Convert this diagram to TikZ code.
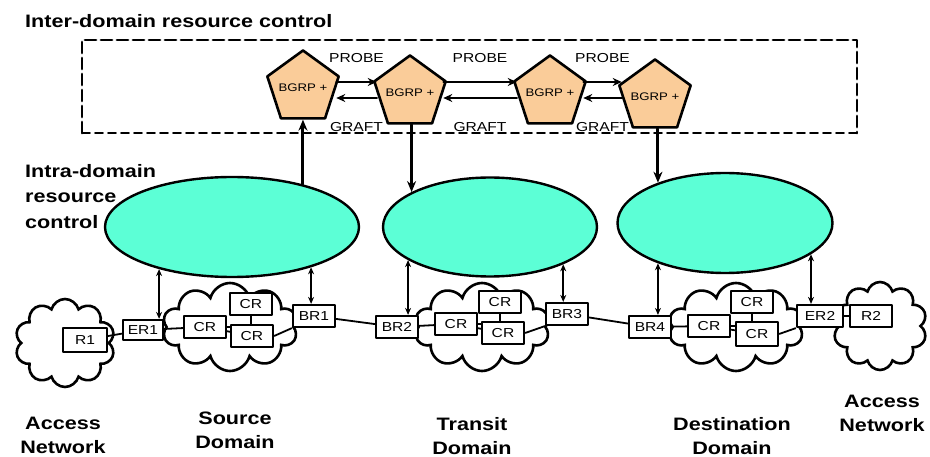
\documentclass[tikz,border=0pt]{standalone}
\usepackage{fontspec}
\usepackage{tikz}
\usetikzlibrary{arrows.meta,shapes.geometric,shapes.symbols}
\newfontfamily\figfont[FakeStretch=1.2]{Liberation Sans}
\definecolor{bgrpfill}{RGB}{250,204,153}
\definecolor{domainfill}{RGB}{92,255,214}
\pgfdeclarelayer{clouds}
\pgfdeclarelayer{links}
\pgfsetlayers{clouds,links,main}

\begin{document}
\begin{tikzpicture}[x=1pt, y=-1pt,
                    line cap=round, line join=round,
                    heading/.style={font=\figfont\bfseries\fontsize{18}{24}\selectfont, inner sep=0pt},
                    lbl/.style={font=\figfont\fontsize{13}{15}\selectfont, inner sep=0pt},
                    bgrp/.style={regular polygon, regular polygon sides=5, draw, line width=2.6pt,
                                 fill=bgrpfill, minimum size=75pt, inner sep=-8pt,
                                 font=\figfont\fontsize{11}{13}\selectfont},
                    intractl/.style={ellipse, draw, line width=2.4pt, fill=domainfill, inner sep=0pt},
                    net/.style={cloud, cloud puffs=10, cloud ignores aspect, draw,
                                line width=2.6pt, fill=white, minimum height=88pt},
                    router/.style={rectangle, draw, line width=2.2pt, fill=white, inner sep=0pt,
                                   minimum width=42pt, minimum height=22pt,
                                   font=\figfont\fontsize{13}{15}\selectfont},
                    probe/.style={-{Stealth[length=9pt,width=8pt]}, line width=2pt},
                    graft/.style={-{Stealth[length=9pt,width=8pt]}, line width=2.8pt},
                    down/.style={-{Stealth[length=11pt,width=9pt]}, line width=3pt},
                    ctrl/.style={{Stealth[length=7pt,width=6pt]}-{Stealth[length=7pt,width=6pt]}, line width=2pt},
                    link/.style={line width=1.8pt}]
  \useasboundingbox (0,0) rectangle (930,457);
  \def\probeY{82}
  \def\graftY{98}

  % headings
  \node[heading, anchor=base west] (title) at (25,28) {Inter-domain resource control};
  \node[heading, anchor=north west, align=left, font=\figfont\bfseries\fontsize{18}{25.5}\selectfont]
    (intra) at (25,164) {Intra-domain\\resource\\control};

  % inter-domain box
  \draw[line width=2.8pt, dash pattern=on 11pt off 5pt] (82,133) -- (82,40) -- (857,40) -- (857,133);
  \draw[line width=1.8pt, dash pattern=on 8pt off 5pt] (857,133) -- (82,133);

  % BGRP agents
  \node[bgrp] (P1) at (303,88) {BGRP +};
  \node[bgrp] (P2) at (410,93) {BGRP +};
  \node[bgrp] (P3) at (550,93) {BGRP +};
  \node[bgrp] (P4) at (655,97) {BGRP +};
  \coordinate (probeY) at (0,\probeY);
  \coordinate (graftY) at (0,\graftY);
  \foreach \a/\b in {P1/P2,P2/P3,P3/P4}{
    \draw[probe] (\a.east |- probeY) -- node[lbl, yshift=24pt] {PROBE} (\b.west |- probeY);
    \draw[graft] (\b.west |- graftY) -- node[lbl, yshift=-29pt] {GRAFT} (\a.east |- graftY);
  }

  % intra-domain control
  \node[intractl, minimum width=254pt, minimum height=100pt] (E1) at (232,227) {};
  \node[intractl, minimum width=214pt, minimum height=99pt] (E2) at (490,227) {};
  \node[intractl, minimum width=215pt, minimum height=100pt] (E3) at (725,223) {};
  \draw[down] (E1.31) -- (E1.31 |- P1.south);
  \draw[down] (E2.156 |- P2.south) -- (E2.156);
  \draw[down] (E3.149 |- P4.south) -- (E3.149);

  % networks
  \begin{pgfonlayer}{clouds}
    \node[net, minimum width=100pt] (acc1) at (65,343) {};
    \node[net, minimum width=135pt] (src) at (230,327) {};
    \node[net, minimum width=135pt] (trn) at (482,327) {};
    \node[net, minimum width=135pt] (dst) at (736,327) {};
    \node[net, minimum width=94pt] (acc2) at (880,326) {};
  \end{pgfonlayer}

  % routers
  \node[router, minimum width=44pt, minimum height=24pt] (R1) at (85,340) {R1};
  \node[router, minimum width=40pt, minimum height=20pt] (ER1) at (143,330) {ER1};
  \node[router] (SCRl) at (205,327) {CR};
  \node[router] (SCRt) at (251,304) {CR};
  \node[router] (SCRb) at (252,336) {CR};
  \node[router] (BR1) at (314,316) {BR1};
  \node[router] (BR2) at (397,327) {BR2};
  \node[router] (TCRl) at (456,324) {CR};
  \node[router] (TCRt) at (500,302) {CR};
  \node[router] (TCRb) at (503,333) {CR};
  \node[router] (BR3) at (567,314) {BR3};
  \node[router] (BR4) at (650,327) {BR4};
  \node[router] (DCRl) at (709,326) {CR};
  \node[router] (DCRt) at (752,302) {CR};
  \node[router, minimum height=24pt] (DCRb) at (757,334) {CR};
  \node[router, minimum width=46pt] (ER2) at (820,316) {ER2};
  \node[router] (R2) at (871,316) {R2};

  \begin{pgfonlayer}{links}
    \draw[link] (R1) -- (ER1) -- (SCRl) -- (SCRb);
    \draw[link] (SCRl) -| (SCRt);
    \draw[link] (SCRb.east) -- (BR1.south west);
    \draw[link] (BR1) -- (BR2) -- (TCRl) -- (TCRb);
    \draw[link] (TCRl) -| (TCRt);
    \draw[link] (TCRb.east) -- (BR3.south west);
    \draw[link] (BR3) -- (BR4) -- (DCRl) -- (DCRb);
    \draw[link] (DCRl) -| (DCRt);
    \draw[link] (DCRb.east) -- (ER2.south west);
    \draw[link] (ER2) -- (R2);
  \end{pgfonlayer}

  % control links to edge and border routers
  \draw[ctrl] (E1.210) -- (E1.210 |- ER1.north);
  \draw[ctrl] (E1.333) -- (E1.333 |- BR1.north);
  \draw[ctrl] (E2.202) -- (E2.202 |- BR2.north);
  \draw[ctrl] (E2.333) -- (E2.333 |- BR3.north);
  \draw[ctrl] (E3.211) -- (E3.211 |- BR4.north);
  \draw[ctrl] (E3.340) -- (E3.340 |- ER2.north);

  % domain names
  \node[heading, anchor=north, align=center] (lacc1) at (63,417) {Access\\Network};
  \node[heading, anchor=north, align=center] (lsrc) at (235,412) {Source\\Domain};
  \node[heading, anchor=north, align=center] (ltrn) at (472,417) {Transit\\Domain};
  \node[heading, anchor=north, align=center] (ldst) at (732,417) {Destination\\Domain};
  \node[heading, anchor=north, align=center] (lacc2) at (882,395) {Access\\Network};
\end{tikzpicture}
\end{document}
